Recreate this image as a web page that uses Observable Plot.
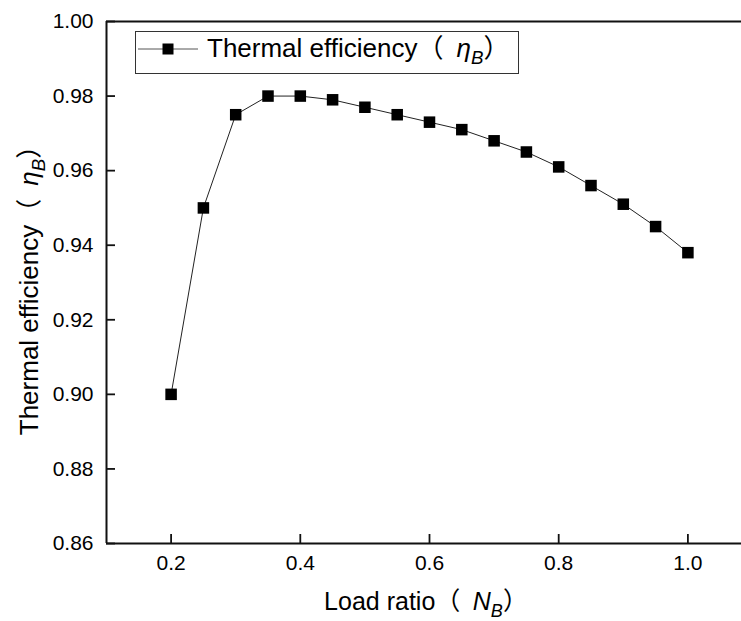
<!DOCTYPE html>
<html>
<head>
<meta charset="utf-8">
<script src="https://cdn.jsdelivr.net/npm/d3@7"></script>
<script src="https://cdn.jsdelivr.net/npm/@observablehq/plot@0.6"></script>
<style>
  html, body { margin: 0; padding: 0; background: #fff; overflow: hidden; }
  #chart { width: 741px; height: 621px; }
  #chart svg { font-family: "Liberation Sans", Arial, "Noto Sans CJK SC", sans-serif; }
</style>
</head>
<body>
<div id="chart"></div>
<script>
// ---- data ----
const loadRatio = [0.20, 0.25, 0.30, 0.35, 0.40, 0.45, 0.50, 0.55, 0.60, 0.65, 0.70, 0.75, 0.80, 0.85, 0.90, 0.95, 1.00];
const efficiency = [0.900, 0.950, 0.975, 0.980, 0.980, 0.979, 0.977, 0.975, 0.973, 0.971, 0.968, 0.965, 0.961, 0.956, 0.951, 0.945, 0.938];
const xTicks = [0.2, 0.4, 0.6, 0.8, 1.0];
const yTicks = [0.86, 0.88, 0.90, 0.92, 0.94, 0.96, 0.98, 1.00];
const xDomain = [0.1, 1.1];
const yDomain = [0.86, 1.00];
const seriesName = "Thermal efficiency";
const xLabel = "Load ratio";

const rows = loadRatio.map((x, i) => ({x, y: efficiency[i]}));

const W = 741, H = 621;
const mL = 106, mT = 21, mB = 78, mR = -11;

const plot = Plot.plot({
  width: W,
  height: H,
  marginLeft: mL,
  marginTop: mT,
  marginBottom: mB,
  marginRight: mR,
  style: {background: "transparent", color: "#000", overflow: "visible"},
  x: {domain: xDomain, axis: null},
  y: {domain: yDomain, axis: null},
  marks: [
    // frame lines (left, bottom, top)
    Plot.ruleX([xDomain[0]], {stroke: "#111", strokeWidth: 2}),
    Plot.ruleY([yDomain[0], yDomain[1]], {stroke: "#111", strokeWidth: 2}),
    // inward ticks
    Plot.ruleX(xTicks, {x: d => d, y1: yDomain[0], y2: yDomain[0], insetTop: -9, stroke: "#111", strokeWidth: 1.8}),
    Plot.ruleY(yTicks, {y: d => d, x1: xDomain[0], x2: xDomain[0], insetRight: -9, stroke: "#111", strokeWidth: 1.8}),
    // tick labels
    Plot.axisX({ticks: xTicks, tickSize: 0, tickPadding: 12, tickFormat: d3.format(".1f"), label: null, fontSize: 21, fill: "#000"}),
    Plot.axisY({ticks: yTicks, tickSize: 0, tickPadding: 13, tickFormat: d3.format(".2f"), label: null, fontSize: 21, fill: "#000"}),
    // series
    Plot.line(rows, {x: "x", y: "y", stroke: "#222", strokeWidth: 1}),
    Plot.dot(rows, {x: "x", y: "y", symbol: "square", r: 6.5, fill: "#000", stroke: "none"})
  ]
});
document.getElementById("chart").appendChild(plot);

const svg = d3.select(plot);

function subLabel(sel, main, sym, sub, size) {
  sel.append("tspan").text(main + "（\u2002");
  sel.append("tspan").attr("font-style", "italic").text(sym);
  sel.append("tspan").attr("font-style", "italic").attr("font-size", size * 0.72).attr("dy", size * 0.28).text(sub);
  sel.append("tspan").attr("dy", -size * 0.28).text("）");
}

// x-axis title
const xt = svg.append("text")
  .attr("x", 426).attr("y", 610)
  .attr("text-anchor", "middle")
  .attr("font-size", 25)
  .attr("fill", "#000");
subLabel(xt, xLabel, "N", "B", 25);

// y-axis title
const yt = svg.append("text")
  .attr("transform", "translate(38,284) rotate(-90)")
  .attr("text-anchor", "middle")
  .attr("font-size", 26)
  .attr("fill", "#000");
subLabel(yt, seriesName, "η", "B", 26);

// legend
const lg = svg.append("g");
lg.append("rect").attr("x", 135.5).attr("y", 31.5).attr("width", 383).attr("height", 42)
  .attr("fill", "#fff").attr("stroke", "#333").attr("stroke-width", 1);
lg.append("line").attr("x1", 138).attr("x2", 198).attr("y1", 49).attr("y2", 49)
  .attr("stroke", "#555").attr("stroke-width", 1);
lg.append("rect").attr("x", 162.5).attr("y", 43.5).attr("width", 11).attr("height", 11).attr("fill", "#000");
const lt = lg.append("text").attr("x", 207).attr("y", 57)
  .attr("text-anchor", "start")
  .attr("font-size", 26).attr("fill", "#000");
subLabel(lt, seriesName, "η", "B", 26);
</script>
</body>
</html>
